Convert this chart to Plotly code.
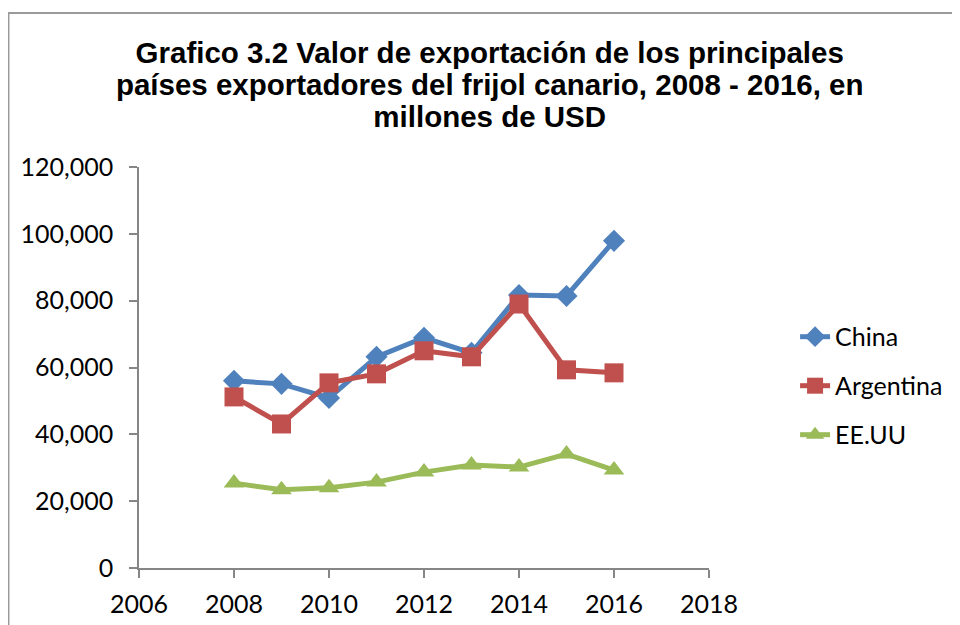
import plotly.graph_objects as go

years = [2008, 2009, 2010, 2011, 2012, 2013, 2014, 2015, 2016]
china = [56000, 55100, 50900, 63200, 68900, 64400, 81700, 81400, 97900]
argentina = [51200, 43100, 55400, 58100, 65000, 63200, 79000, 59300, 58400]
eeuu = [25400, 23400, 24000, 25700, 28700, 30800, 30200, 34100, 29300]

series_names = ["China", "Argentina", "EE.UU"]
colors = ["#4F81BD", "#C0504D", "#9BBB59"]
symbols = ["diamond", "square", "triangle-up"]
marker_sizes = [17, 19, 18]

title_lines = ["Grafico 3.2 Valor de exportación de los principales",
               "países exportadores del frijol canario, 2008 - 2016, en",
               "millones de USD"]
title_text = "<br>".join('<span style="font-size:29.5px">%s</span>' % t for t in title_lines)

fig = go.Figure()
for i, (name, vals) in enumerate(zip(series_names, [china, argentina, eeuu])):
    fig.add_trace(go.Scatter(
        x=years, y=vals, name=name, mode="lines+markers",
        line=dict(color=colors[i], width=5),
        marker=dict(symbol=symbols[i], size=marker_sizes[i], color=colors[i]),
        legendgroup=name,
    ))

axis_font = dict(family="Lato", size=25, color="#000000")

fig.update_layout(
    width=952, height=617,
    paper_bgcolor="white", plot_bgcolor="white",
    margin=dict(l=131, r=249, t=159, b=57),
    title=dict(text=title_text, x=0.506, xanchor="center", y=0.911, yanchor="top",
               font=dict(family="Liberation Sans", size=24.6, color="#000000", weight="bold")),
    showlegend=True,
    legend=dict(x=1.151, y=0.454, xanchor="left", yanchor="middle",
                font=dict(family="Lato", size=25, color="#000000"),
                tracegroupgap=13.5, traceorder="grouped",
                bgcolor="rgba(0,0,0,0)"),
    xaxis=dict(range=[2006, 2018], dtick=2, tick0=2006, showgrid=False, zeroline=False,
               showline=True, linecolor="#868686", linewidth=1.5, automargin=False,
               ticks="outside", ticklen=8, tickcolor="#868686", tickwidth=1.5,
               tickfont=axis_font, ticklabelstandoff=5),
    yaxis=dict(range=[0, 120000], dtick=20000, showgrid=False, zeroline=False,
               showline=True, linecolor="#868686", linewidth=1.5, automargin=False,
               ticks="outside", ticklen=8, tickcolor="#868686", tickwidth=1.5,
               tickformat=",", tickfont=axis_font, ticklabelstandoff=11),
    shapes=[dict(type="path", xref="paper", yref="paper",
                 path="M -0.229,-0.2 L -0.229,1.384 L 1.5,1.384",
                 line=dict(color="#9a9a9a", width=2))],
)

fig.write_html("out.html")
